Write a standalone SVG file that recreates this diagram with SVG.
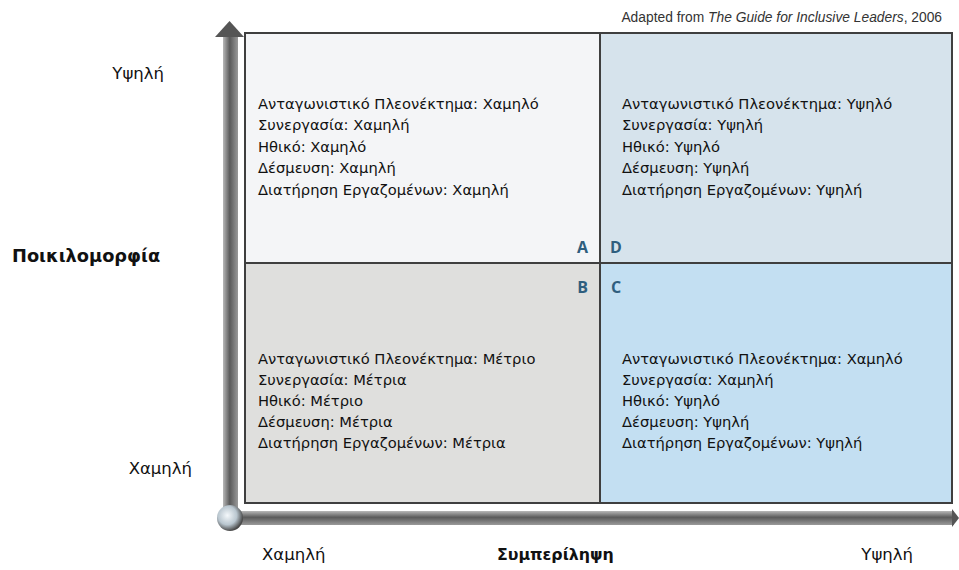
<svg xmlns="http://www.w3.org/2000/svg" width="959" height="570" viewBox="0 0 959 570">
<defs>
<linearGradient id="gv" x1="0" y1="0" x2="1" y2="0">
<stop offset="0" stop-color="#b8b8b8"/><stop offset="0.45" stop-color="#5a5a5a"/><stop offset="1" stop-color="#9a9a9a"/>
</linearGradient>
<linearGradient id="gh" x1="0" y1="0" x2="0" y2="1">
<stop offset="0" stop-color="#b8b8b8"/><stop offset="0.45" stop-color="#5a5a5a"/><stop offset="1" stop-color="#9a9a9a"/>
</linearGradient>
<radialGradient id="gb" cx="0.4" cy="0.4" r="0.6">
<stop offset="0" stop-color="#f4f8fb"/><stop offset="0.6" stop-color="#b9c6cf"/><stop offset="1" stop-color="#4a4a4a"/>
</radialGradient>
</defs>
<style>
.q{font-family:"DejaVu Sans",Verdana,sans-serif;font-size:14.7px;fill:#111}
.l{font-family:"DejaVu Sans",Verdana,sans-serif;font-size:16.5px;fill:#111}
.b{font-family:"DejaVu Sans",Verdana,sans-serif;font-weight:bold;fill:#111}
.k{font-family:"Open Sans","DejaVu Sans",sans-serif;font-size:16px;font-weight:bold;fill:#2f5e7e}
.cell{stroke:#3f3f3f;stroke-width:2}
</style>
<rect width="959" height="570" fill="#ffffff"/>
<text x="942" y="22" text-anchor="end" font-family="Liberation Sans,Arial,sans-serif" font-size="13.8" fill="#333">Adapted from <tspan font-style="italic">The Guide for Inclusive Leaders</tspan>, 2006</text>
<g id="axes">
<rect x="223" y="36" width="15" height="482" fill="url(#gv)"/>
<polygon points="229.5,21 244,37 215,37" fill="#555"/>
<rect x="230" y="511" width="724" height="14" fill="url(#gh)"/>
<polygon points="959,518 952,509 952,527" fill="#555"/>
<circle cx="230" cy="518" r="13" fill="url(#gb)"/>
</g>
<g id="quadrant-A">
<rect class="cell" x="245" y="33" width="355" height="230" fill="#f4f5f7"/>
<text class="q" x="258" y="109">Ανταγωνιστικό Πλεονέκτημα: Χαμηλό</text>
<text class="q" x="258" y="130">Συνεργασία: Χαμηλή</text>
<text class="q" x="258" y="152">Ηθικό: Χαμηλό</text>
<text class="q" x="258" y="173">Δέσμευση: Χαμηλή</text>
<text class="q" x="258" y="195">Διατήρηση Εργαζομένων: Χαμηλή</text>
<text class="k" x="588" y="253" text-anchor="end">A</text>
</g>
<g id="quadrant-D">
<rect class="cell" x="600" y="33" width="352" height="230" fill="#d6e3ec"/>
<text class="q" x="622" y="109">Ανταγωνιστικό Πλεονέκτημα: Υψηλό</text>
<text class="q" x="622" y="130">Συνεργασία: Υψηλή</text>
<text class="q" x="622" y="152">Ηθικό: Υψηλό</text>
<text class="q" x="622" y="173">Δέσμευση: Υψηλή</text>
<text class="q" x="622" y="195">Διατήρηση Εργαζομένων: Υψηλή</text>
<text class="k" x="610" y="253">D</text>
</g>
<g id="quadrant-B">
<rect class="cell" x="245" y="263" width="355" height="240" fill="#dfdfdd"/>
<text class="q" x="258" y="364">Ανταγωνιστικό Πλεονέκτημα: Μέτριο</text>
<text class="q" x="258" y="385">Συνεργασία: Μέτρια</text>
<text class="q" x="258" y="406">Ηθικό: Μέτριο</text>
<text class="q" x="258" y="427">Δέσμευση: Μέτρια</text>
<text class="q" x="258" y="448">Διατήρηση Εργαζομένων: Μέτρια</text>
<text class="k" x="588" y="293" text-anchor="end">B</text>
</g>
<g id="quadrant-C">
<rect class="cell" x="600" y="263" width="352" height="240" fill="#c3dff2"/>
<text class="q" x="622" y="364">Ανταγωνιστικό Πλεονέκτημα: Χαμηλό</text>
<text class="q" x="622" y="385">Συνεργασία: Χαμηλή</text>
<text class="q" x="622" y="406">Ηθικό: Υψηλό</text>
<text class="q" x="622" y="427">Δέσμευση: Υψηλή</text>
<text class="q" x="622" y="448">Διατήρηση Εργαζομένων: Υψηλή</text>
<text class="k" x="611" y="293">C</text>
</g>
<g id="labels">
<text class="l" x="164" y="79" text-anchor="end">Υψηλή</text>
<text class="b" x="12" y="262" font-size="17.8">Ποικιλομορφία</text>
<text class="l" x="192" y="474" text-anchor="end">Χαμηλή</text>
<text class="l" x="262" y="560">Χαμηλή</text>
<text class="b" x="497" y="560" font-size="15.8">Συμπερίληψη</text>
<text class="l" x="913" y="560" text-anchor="end">Υψηλή</text>
</g>
</svg>
